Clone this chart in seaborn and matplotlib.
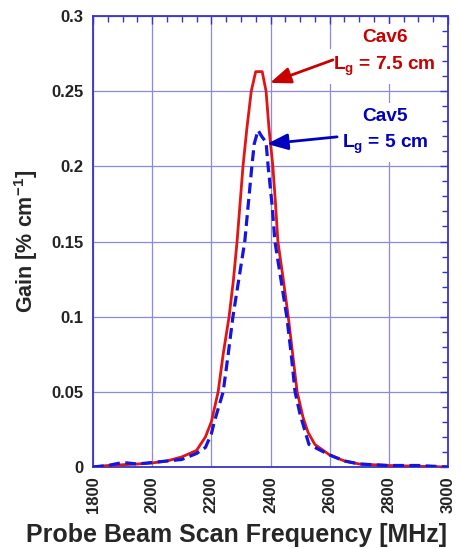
import matplotlib
matplotlib.use("Agg")
import matplotlib.pyplot as plt
import seaborn as sns
import numpy as np
from matplotlib.ticker import MultipleLocator

sns.set_style("white")
plt.rcParams['font.family'] = ['Liberation Sans', 'DejaVu Sans']
plt.rcParams['mathtext.fontset'] = 'custom'
plt.rcParams['mathtext.rm'] = 'Liberation Sans:bold'
plt.rcParams['mathtext.bf'] = 'Liberation Sans:bold'
plt.rcParams['mathtext.it'] = 'Liberation Sans:bold'

# Cav6 (Lg = 7.5 cm), solid red
freq_cav6 = [1800, 1850, 1900, 1950, 2000, 2050, 2100, 2150, 2180, 2200, 2223, 2240,
             2260, 2275, 2287, 2297, 2307, 2320, 2335, 2350, 2372, 2385, 2395, 2408,
             2417, 2425, 2443, 2460, 2475, 2490, 2510, 2527, 2550, 2600, 2650, 2700,
             2800, 2900, 3000]
gain_cav6 = [0.000, 0.001, 0.0015, 0.002, 0.0027, 0.004, 0.0067, 0.011, 0.020, 0.030,
             0.050, 0.075, 0.100, 0.125, 0.150, 0.175, 0.200, 0.225, 0.250, 0.263,
             0.263, 0.250, 0.225, 0.200, 0.175, 0.150, 0.125, 0.100, 0.075, 0.050,
             0.033, 0.023, 0.015, 0.008, 0.004, 0.002, 0.001, 0.0005, 0.000]

# Cav5 (Lg = 5 cm), dashed blue
freq_cav5 = [1800, 1850, 1900, 1950, 2000, 2050, 2100, 2150, 2180, 2200, 2210, 2240,
             2257, 2273, 2293, 2313, 2325, 2337, 2345, 2358, 2370, 2385, 2392, 2405,
             2415, 2435, 2455, 2470, 2483, 2500, 2515, 2530, 2560, 2600, 2650, 2700,
             2800, 2900, 3000]
gain_cav5 = [0.000, 0.001, 0.003, 0.002, 0.003, 0.004, 0.005, 0.009, 0.013, 0.022,
             0.030, 0.050, 0.075, 0.100, 0.125, 0.150, 0.175, 0.200, 0.215, 0.224,
             0.220, 0.216, 0.200, 0.175, 0.150, 0.125, 0.100, 0.075, 0.050, 0.035,
             0.025, 0.015, 0.012, 0.008, 0.004, 0.002, 0.001, 0.001, 0.000]

y_ticks = [0, 0.05, 0.1, 0.15, 0.2, 0.25, 0.3]
y_tick_labels = ['0', '0.05', '0.1', '0.15', '0.2', '0.25', '0.3']

fig = plt.figure(figsize=(4.62, 5.48), dpi=100)
ax = fig.add_axes([0.2013, 0.1478, 0.9697 - 0.2013, 0.9708 - 0.1478])

sns.lineplot(x=freq_cav6, y=gain_cav6, ax=ax, color='#e01515', lw=2.0, zorder=3)
sns.lineplot(x=freq_cav5, y=gain_cav5, ax=ax, color='#1515e0', lw=2.3,
             linestyle=(0, (3.4, 1.7)), zorder=4)

ax.set_xlim(1800, 3000)
ax.set_ylim(0, 0.3)
ax.xaxis.set_major_locator(MultipleLocator(200))
ax.xaxis.set_minor_locator(MultipleLocator(50))
ax.yaxis.set_minor_locator(MultipleLocator(0.01))
ax.set_yticks(y_ticks)
ax.set_yticklabels(y_tick_labels)

spine_c = '#3535c8'
for s in ax.spines.values():
    s.set_color(spine_c)
    s.set_linewidth(1.3)
ax.grid(True, which='major', color='#8a8ae6', lw=0.9, zorder=0)
ax.set_axisbelow(True)
ax.tick_params(which='both', direction='in', top=True, right=True, color=spine_c)
ax.tick_params(which='major', length=6, width=1.0)
ax.tick_params(which='minor', length=4, width=1.0)
ax.tick_params(axis='x', labelrotation=90, labelsize=12, pad=7)
ax.tick_params(axis='y', labelsize=12, pad=7)
for lab in ax.get_xticklabels() + ax.get_yticklabels():
    lab.set_fontweight('bold')
    lab.set_color('#222222')

ax.set_xlabel('Probe Beam Scan Frequency [MHz]', fontsize=18, fontweight='bold')
ax.xaxis.set_label_coords(0.403, -0.125)
ax.set_ylabel('Gain [% cm$^{-1}$]', fontsize=15.5, fontweight='bold', labelpad=8)

red_t = '#c80000'
blue_t = '#0000c0'
box = dict(facecolor='white', edgecolor='none', pad=4)
ax.text(2787, 0.2854, 'Cav6', color=red_t, fontsize=13.8, fontweight='bold',
        ha='center', va='center', bbox=box, zorder=5)
ax.text(2784, 0.264, 'L$_\\mathregular{g}$ = 7.5 cm', color=red_t, fontsize=13.8,
        fontweight='bold', ha='center', va='baseline', bbox=box, zorder=5)
ax.annotate('', xy=(2398, 0.2555), xytext=(2611, 0.2708),
            arrowprops=dict(arrowstyle='-|>,head_width=0.35,head_length=0.9', color=red_t,
                            lw=2, mutation_scale=14, shrinkA=0, shrinkB=0), zorder=6)
ax.text(2787, 0.2329, 'Cav5', color=blue_t, fontsize=13.8, fontweight='bold',
        ha='center', va='center', bbox=box, zorder=5)
ax.text(2787, 0.2122, 'L$_\\mathregular{g}$ = 5 cm', color=blue_t, fontsize=13.8,
        fontweight='bold', ha='center', va='baseline', bbox=box, zorder=5)
ax.annotate('', xy=(2388, 0.2149), xytext=(2625, 0.2196),
            arrowprops=dict(arrowstyle='-|>,head_width=0.35,head_length=0.9', color=blue_t,
                            lw=2, mutation_scale=14, shrinkA=0, shrinkB=0), zorder=6)

fig.savefig('out.png', dpi=100, facecolor='white')
